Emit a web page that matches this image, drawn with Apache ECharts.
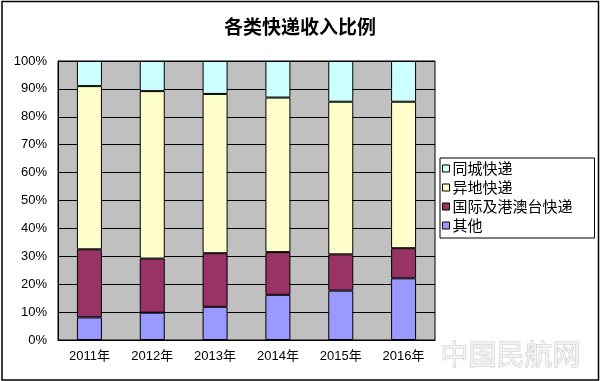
<!DOCTYPE html>
<html>
<head>
<meta charset="utf-8">
<script src="https://cdn.jsdelivr.net/npm/echarts@6/dist/echarts.min.js"></script>
<style>html,body{margin:0;padding:0;background:#fff;}#c{width:600px;height:381px;}</style>
</head>
<body>
<div id="c"></div>
<script>
var categories = ['2011年', '2012年', '2013年', '2014年', '2015年', '2016年'];
var yTicks = ['0%', '10%', '20%', '30%', '40%', '50%', '60%', '70%', '80%', '90%', '100%'];
var seriesNames = ['同城快递', '异地快递', '国际及港澳台快递', '其他'];
var sameCity = [9.0, 10.8, 11.8, 13.1, 14.6, 14.6];
var interCity = [58.5, 60.0, 57.1, 55.4, 54.7, 52.5];
var intl = [24.4, 19.4, 19.2, 15.3, 13.0, 10.8];
var other = [8.1, 9.8, 11.9, 16.2, 17.7, 22.1];

var colors = {'同城快递': '#CCFFFF', '异地快递': '#FFFFCC', '国际及港澳台快递': '#993366', '其他': '#9999FF'};
var dataMap = {'同城快递': sameCity, '异地快递': interCity, '国际及港澳台快递': intl, '其他': other};
var stackOrder = ['其他', '国际及港澳台快递', '异地快递', '同城快递'];

var chart = echarts.init(document.getElementById('c'), null, {renderer: 'canvas'});
var font = '"Liberation Sans", "Noto Sans CJK SC", sans-serif';
chart.setOption({
  animation: false,
  title: {
    text: '各类快递收入比例',
    left: 'center',
    top: 12,
    textStyle: {fontFamily: '"Noto Sans CJK SC", sans-serif', fontSize: 19, fontWeight: 'bold', color: '#000'}
  },
  legend: {
    orient: 'vertical',
    left: 440,
    top: 158,
    data: seriesNames,
    backgroundColor: '#fff',
    borderColor: '#000',
    borderWidth: 1,
    padding: [3, 22, 5, 2],
    itemGap: 4,
    itemWidth: 7,
    itemHeight: 7,
    icon: 'rect',
    itemStyle: {borderColor: '#000', borderWidth: 1},
    textStyle: {fontFamily: '"Noto Sans CJK SC", sans-serif', fontSize: 15, color: '#000', padding: [0, 0, 0, -2]}
  },
  grid: {
    left: 58, right: 165, top: 61, bottom: 41,
    show: true, backgroundColor: '#C0C0C0', borderColor: '#000', borderWidth: 1
  },
  xAxis: {
    type: 'category',
    data: categories,
    axisLine: {lineStyle: {color: '#000', width: 1}},
    axisTick: {inside: true, length: 4, lineStyle: {color: '#000'}},
    axisLabel: {interval: 0, margin: 10, fontFamily: font, fontSize: 13, color: '#000'}
  },
  yAxis: {
    type: 'value',
    min: 0, max: 100, interval: 10,
    axisLine: {show: true, lineStyle: {color: '#000'}},
    axisTick: {show: false},
    splitLine: {lineStyle: {color: '#000', width: 1}},
    axisLabel: {
      margin: 11, fontFamily: font, fontSize: 13, color: '#000',
      formatter: function (v) { return yTicks[Math.round(v / 10)]; }
    }
  },
  series: stackOrder.map(function (name) {
    return {
      name: name,
      type: 'bar',
      stack: 'total',
      barWidth: 25,
      data: dataMap[name],
      itemStyle: {color: colors[name], borderColor: '#000', borderWidth: 1}
    };
  }),
  graphic: [
    {type: 'rect', shape: {x: 2, y: 1.5, width: 596.5, height: 378.5}, style: {fill: 'none', stroke: '#000', lineWidth: 1.5}, silent: true},
    {type: 'text', left: 440, top: 340, style: {text: '中国民航网', font: '28px "Noto Sans CJK SC", sans-serif', fill: '#f2f2f2', stroke: '#c8c8c8', lineWidth: 1}, silent: true}
  ]
});
</script>
</body>
</html>
